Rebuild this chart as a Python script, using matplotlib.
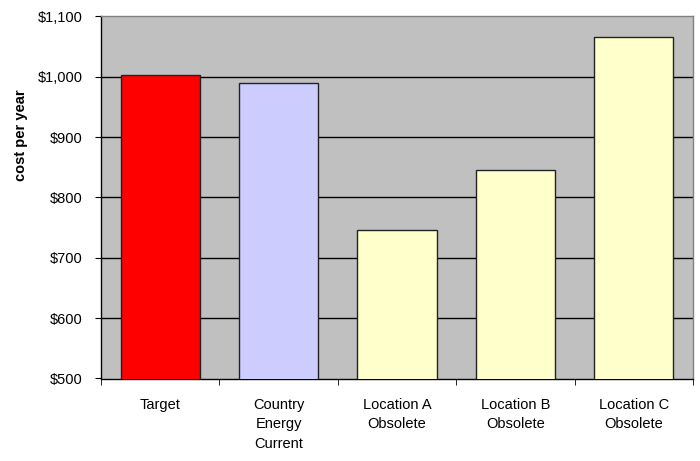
import matplotlib
matplotlib.use("Agg")
import matplotlib.pyplot as plt
from matplotlib.ticker import FuncFormatter, FixedLocator, NullFormatter

categories = ["Target", "Country\nEnergy\nCurrent", "Location A\nObsolete", "Location B\nObsolete", "Location C\nObsolete"]
values = [1003, 990, 746, 846, 1066]
colors = ["#FF0000", "#CCCCFF", "#FFFFCC", "#FFFFCC", "#FFFFCC"]
y_ticks = [500, 600, 700, 800, 900, 1000, 1100]

plt.rcParams['font.family'] = ['Liberation Sans', 'DejaVu Sans']

fig = plt.figure(figsize=(7, 4.61), dpi=100)
ax = fig.add_axes([101/700, 1 - 378.5/461, (693 - 101)/700, (378.5 - 16.5)/461])
ax.set_facecolor("#C0C0C0")

x = list(range(len(categories)))
ax.bar(x, values, width=0.67, color=colors, edgecolor="#222222", linewidth=1, zorder=3)

ax.set_ylim(500, 1100)
ax.set_xlim(-0.5, len(categories) - 0.5)
ax.set_yticks(y_ticks)
ax.yaxis.set_major_formatter(FuncFormatter(lambda v, p: "${:,.0f}".format(v)))
for yt in y_ticks[1:-1]:
    ax.axhline(yt, color="black", linewidth=1, zorder=1)

ax.set_xticks(x)
ax.set_xticklabels(categories, fontsize=10.5, linespacing=1.5, va="top")
ax.tick_params(axis="x", which="major", length=0, pad=14)
ax.xaxis.set_minor_locator(FixedLocator([i - 0.5 for i in range(len(categories) + 1)]))
ax.xaxis.set_minor_formatter(NullFormatter())
ax.tick_params(axis="x", which="minor", length=4, direction="out", color="black")
ax.tick_params(axis="y", length=4, direction="out", labelsize=10.5, pad=9, color="black")

ax.set_ylabel("cost per year", fontsize=10.5, fontweight="bold")
ax.yaxis.set_label_coords(-(101 - 28) / 592, (378.5 - 135) / 362)

ax.spines["left"].set_color("black")
ax.spines["bottom"].set_color("black")
ax.spines["top"].set_color("#808080")
ax.spines["right"].set_color("#808080")
for s in ax.spines.values():
    s.set_linewidth(1)

fig.savefig("out.png", dpi=100)
